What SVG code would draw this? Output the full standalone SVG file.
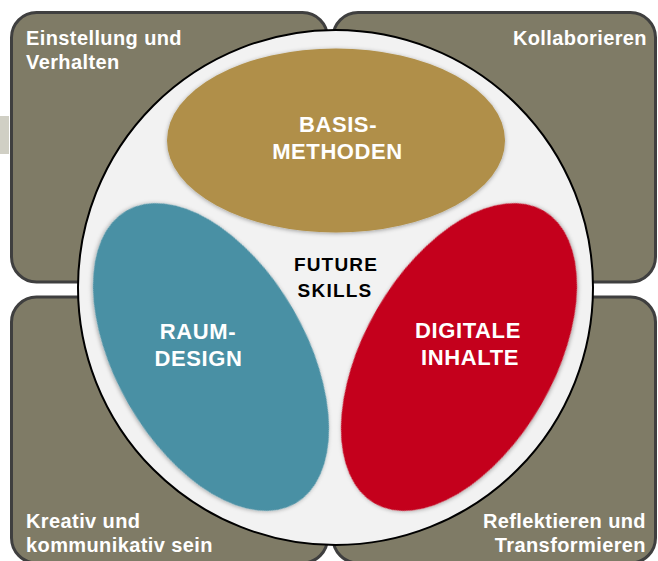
<svg xmlns="http://www.w3.org/2000/svg" width="658" height="561" viewBox="0 0 658 561">
  <defs>
    <style>
      .quad { fill: #7f7b66; stroke: #3f3f3f; stroke-width: 3; }
      .qtext { font-family: "Liberation Sans", Arial, sans-serif; font-weight: bold; font-size: 20px; fill: #ffffff; letter-spacing: 0.4px; }
      .etext { font-family: "Liberation Sans", Arial, sans-serif; font-weight: bold; font-size: 22px; fill: #ffffff; text-anchor: middle; letter-spacing: 0.6px; }
      .ctext { font-family: "Liberation Sans", Arial, sans-serif; font-weight: bold; font-size: 19px; fill: #000000; text-anchor: middle; letter-spacing: 1.2px; }
    </style>
    <filter id="soft" x="-10%" y="-10%" width="120%" height="120%">
      <feDropShadow dx="0" dy="1" stdDeviation="2" flood-color="#000000" flood-opacity="0.35"/>
    </filter>
  </defs>

  <rect x="0" y="116" width="9" height="38" fill="#d0cfc4"/>

  <g id="quadrant-tl">
    <rect class="quad" x="11.5" y="12.5" width="316" height="269.5" rx="25" ry="25"/>
    <text class="qtext" x="26" y="45">Einstellung und</text>
    <text class="qtext" x="26" y="69">Verhalten</text>
  </g>
  <g id="quadrant-tr">
    <rect class="quad" x="333" y="12.5" width="322.5" height="269.5" rx="25" ry="25"/>
    <text class="qtext" x="647" y="45" text-anchor="end">Kollaborieren</text>
  </g>
  <g id="quadrant-bl">
    <rect class="quad" x="11.5" y="297" width="316" height="266" rx="25" ry="25"/>
    <text class="qtext" x="26" y="528">Kreativ und</text>
    <text class="qtext" x="26" y="552">kommunikativ sein</text>
  </g>
  <g id="quadrant-br">
    <rect class="quad" x="333" y="297" width="322.5" height="266" rx="25" ry="25"/>
    <text class="qtext" x="646" y="528" text-anchor="end">Reflektieren und</text>
    <text class="qtext" x="646" y="552" text-anchor="end">Transformieren</text>
  </g>

  <g id="circle">
    <circle cx="335.5" cy="287.5" r="257.5" fill="#f2f2f2" stroke="#000000" stroke-width="2"/>
  </g>

  <g id="basis-methoden">
    <ellipse cx="336" cy="140.5" rx="169" ry="92" fill="#b08f48" filter="url(#soft)"/>
    <text class="etext" x="338" y="132">BASIS-</text>
    <text class="etext" x="337.5" y="159">METHODEN</text>
  </g>

  <g id="raum-design">
    <ellipse cx="0" cy="0" rx="169" ry="95" fill="#4a90a4" filter="url(#soft)" transform="translate(211 357) rotate(60)"/>
    <text class="etext" x="198" y="339">RAUM-</text>
    <text class="etext" x="198.5" y="366">DESIGN</text>
  </g>

  <g id="digitale-inhalte">
    <ellipse cx="0" cy="0" rx="169" ry="95" fill="#c4001c" filter="url(#soft)" transform="translate(459 357) rotate(-60)"/>
    <text class="etext" x="468" y="338">DIGITALE</text>
    <text class="etext" x="470" y="365">INHALTE</text>
  </g>

  <g id="future-skills">
    <text class="ctext" x="336" y="271">FUTURE</text>
    <text class="ctext" x="335" y="297">SKILLS</text>
  </g>

  <g id="connectors"></g>
</svg>
